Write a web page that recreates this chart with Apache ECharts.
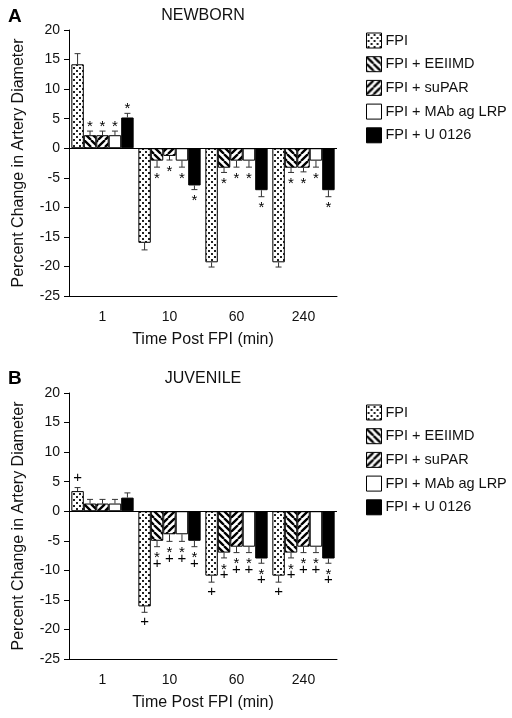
<!DOCTYPE html>
<html>
<head>
<meta charset="utf-8">
<script src="https://cdn.jsdelivr.net/npm/echarts@6/dist/echarts.min.js"></script>
<style>
html,body{margin:0;padding:0;background:#fff;}
#chart{width:512px;height:718px;}
</style>
</head>
<body>
<div id="chart"></div>
<script>
// ---------- data ----------
const categories = ['1', '10', '60', '240'];
const groupNames = ['FPI', 'FPI + EEIIMD', 'FPI + suPAR', 'FPI + MAb ag LRP', 'FPI + U 0126'];
const yTicks = [-25, -20, -15, -10, -5, 0, 5, 10, 15, 20];

// Panel A: NEWBORN (mean % change, SEM)
const newbornFPI       = [14.2, -16.0, -19.3, -19.3];
const newbornFPIErr    = [1.8, 1.2, 0.8, 0.8];
const newbornEEIIMD    = [2.2, -2.1, -3.3, -3.3];
const newbornEEIIMDErr = [0.7, 1.1, 0.8, 0.8];
const newbornSuPAR     = [2.2, -1.3, -2.1, -3.3];
const newbornSuPARErr  = [0.7, 0.7, 1.1, 0.7];
const newbornMAb       = [2.2, -2.1, -2.1, -2.1];
const newbornMAbErr    = [0.7, 1.1, 1.1, 1.1];
const newbornU0126     = [5.2, -6.3, -7.1, -7.1];
const newbornU0126Err  = [0.7, 0.7, 1.1, 1.1];
const newbornMarks = [
  ['', '', '', ''],
  ['*', '*', '*', '*'],
  ['*', '*', '*', '*'],
  ['*', '*', '*', '*'],
  ['*', '*', '*', '*']
];

// Panel B: JUVENILE
const juvenileFPI       = [3.4, -16.1, -10.9, -10.9];
const juvenileFPIErr    = [0.6, 1.0, 1.1, 1.1];
const juvenileEEIIMD    = [1.3, -5.0, -7.0, -7.0];
const juvenileEEIIMDErr = [0.7, 1.0, 0.9, 0.9];
const juvenileSuPAR     = [1.3, -3.9, -6.0, -6.0];
const juvenileSuPARErr  = [0.7, 1.2, 1.0, 1.0];
const juvenileMAb       = [1.3, -3.9, -6.0, -6.0];
const juvenileMAbErr    = [0.7, 1.2, 1.0, 1.0];
const juvenileU0126     = [2.3, -5.0, -8.0, -8.0];
const juvenileU0126Err  = [0.8, 1.0, 0.8, 0.8];
const juvenileMarks = [
  ['+', '+', '+', '+'],
  ['', '*+', '*+', '*+'],
  ['', '*+', '*+', '*+'],
  ['', '*+', '*+', '*+'],
  ['', '*+', '*+', '*+']
];

// ---------- patterns ----------
function makeCanvas(w, h) {
  const c = document.createElement('canvas');
  c.width = w; c.height = h;
  const ctx = c.getContext('2d');
  ctx.fillStyle = '#fff';
  ctx.fillRect(0, 0, w, h);
  return [c, ctx];
}
function dotsPattern() {
  const [c, ctx] = makeCanvas(6, 6);
  ctx.fillStyle = '#222';
  ctx.fillRect(1, 1, 2, 2);
  ctx.fillRect(4, 4, 2, 2);
  return { image: c, repeat: 'repeat' };
}
function stripePattern(back) {
  const s = 7;
  const [c, ctx] = makeCanvas(s, s);
  ctx.strokeStyle = '#000';
  ctx.lineWidth = 2.3;
  ctx.beginPath();
  for (let k = -1; k <= 1; k++) {
    if (back) { ctx.moveTo(k * s, 0); ctx.lineTo(k * s + s, s); }
    else { ctx.moveTo(k * s, s); ctx.lineTo(k * s + s, 0); }
  }
  ctx.stroke();
  return { image: c, repeat: 'repeat' };
}
const fills = [dotsPattern(), stripePattern(true), stripePattern(false), '#fff', '#000'];

const FONT = 'Liberation Sans, Arial, Helvetica, sans-serif';

const panels = [
  {
    vals: [newbornFPI, newbornEEIIMD, newbornSuPAR, newbornMAb, newbornU0126],
    errs: [newbornFPIErr, newbornEEIIMDErr, newbornSuPARErr, newbornMAbErr, newbornU0126Err],
    marks: newbornMarks, top: 30, legendTop: 27.5
  },
  {
    vals: [juvenileFPI, juvenileEEIIMD, juvenileSuPAR, juvenileMAb, juvenileU0126],
    errs: [juvenileFPIErr, juvenileEEIIMDErr, juvenileSuPARErr, juvenileMAbErr, juvenileU0126Err],
    marks: juvenileMarks, top: 393, legendTop: 399.5
  }
];

const CAT_GAP = 0.07;

function makeRender(i, marks) {
  return function (params, api) {
    const k = api.value(0), v = api.value(1), e = api.value(2);
    const up = v >= 0;
    const p0 = api.coord([k, v]);
    const p1 = api.coord([k, up ? v + e : v - e]);
    const bandW = api.size([1, 0])[0];
    const barW = bandW * (1 - CAT_GAP) / 5;
    const x = p0[0] + (i - 2) * barW;
    const children = [
      { type: 'line', shape: { x1: x, y1: p0[1], x2: x, y2: p1[1] }, style: { stroke: '#333', lineWidth: 1 } },
      { type: 'line', shape: { x1: x - 3, y1: p1[1], x2: x + 3, y2: p1[1] }, style: { stroke: '#333', lineWidth: 1 } }
    ];
    const m = marks[k] || '';
    const dir = up ? -1 : 1;
    let off = 0;
    for (let j = 0; j < m.length; j++) {
      const ch = m[j];
      if (j === 0) off = (ch === '*') ? 8 : 10;
      else off += 9;
      const cy = p1[1] + dir * off + (ch === '*' ? 3.5 : 0);
      children.push({
        type: 'text', x: x, y: cy,
        style: {
          text: ch, fill: '#000', fontSize: 15, fontFamily: FONT,
          align: 'center', verticalAlign: 'middle', textAlign: 'center', textVerticalAlign: 'middle'
        }
      });
    }
    return { type: 'group', children: children };
  };
}

const grids = [], xAxes = [], yAxes = [], series = [], legends = [];
panels.forEach((p, pi) => {
  grids.push({ left: 69, width: 268, top: p.top, height: 266 });
  xAxes.push({
    type: 'category', gridIndex: pi, data: categories, position: 'bottom',
    name: 'Time Post FPI (min)', nameLocation: 'middle', nameGap: 36,
    nameTextStyle: { fontSize: 16, color: '#111', fontFamily: FONT },
    axisLine: { onZero: false, lineStyle: { color: '#000', width: 1 } },
    axisTick: { alignWithLabel: true, length: 8, lineStyle: { color: '#000' } },
    axisLabel: { fontSize: 14, color: '#111', fontFamily: FONT, margin: 14 },
    splitLine: { show: false }
  });
  yAxes.push({
    type: 'value', gridIndex: pi, min: -25, max: 20, interval: 5,
    name: 'Percent Change in Artery Diameter', nameLocation: 'middle', nameGap: 42,
    nameTextStyle: { fontSize: 16, color: '#111', fontFamily: FONT },
    axisLine: { show: true, lineStyle: { color: '#000', width: 1 } },
    axisTick: { show: true, length: 5, lineStyle: { color: '#000' } },
    axisLabel: { fontSize: 14, color: '#111', fontFamily: FONT, margin: 9 },
    splitLine: { show: false }
  });
  p.vals.forEach((vals, i) => {
    const s = {
      type: 'bar', name: groupNames[i], xAxisIndex: pi, yAxisIndex: pi,
      data: vals, barCategoryGap: (CAT_GAP * 100) + '%', barGap: '0%',
      itemStyle: { color: fills[i], borderColor: '#000', borderWidth: 1 },
      emphasis: { disabled: true }, z: 2
    };
    if (i === 0) {
      s.markLine = {
        silent: true, symbol: 'none', label: { show: false },
        lineStyle: { color: '#000', width: 1, type: 'solid' },
        data: [{ yAxis: 0 }]
      };
    }
    series.push(s);
  });
  p.vals.forEach((vals, i) => {
    series.push({
      type: 'custom', name: 'err_' + pi + '_' + i, xAxisIndex: pi, yAxisIndex: pi,
      data: vals.map((v, k) => [k, v, p.errs[i][k]]),
      renderItem: makeRender(i, p.marks[i]), silent: true, z: 3
    });
  });
  legends.push({
    data: groupNames, orient: 'vertical', left: 361, top: p.legendTop,
    itemWidth: 15, itemHeight: 15, itemGap: 7.7, icon: 'rect',
    textStyle: { fontSize: 14.5, color: '#111', fontFamily: FONT, padding: [0, 0, 0, -1] },
    itemStyle: { borderColor: '#000', borderWidth: 1 }, selectedMode: false
  });
});

const chart = echarts.init(document.getElementById('chart'), null, { renderer: 'canvas' });
chart.setOption({
  backgroundColor: '#fff',
  animation: false,
  grid: grids, xAxis: xAxes, yAxis: yAxes, legend: legends, series: series,
  graphic: [
    { type: 'text', x: 8, y: 17, style: { text: 'A', font: 'bold 19px ' + FONT, fill: '#000', align: 'left', verticalAlign: 'middle' } },
    { type: 'text', x: 203, y: 15.5, style: { text: 'NEWBORN', font: '16px ' + FONT, fill: '#111', align: 'center', verticalAlign: 'middle' } },
    { type: 'text', x: 8, y: 379, style: { text: 'B', font: 'bold 19px ' + FONT, fill: '#000', align: 'left', verticalAlign: 'middle' } },
    { type: 'text', x: 203, y: 379, style: { text: 'JUVENILE', font: '16px ' + FONT, fill: '#111', align: 'center', verticalAlign: 'middle' } }
  ]
});
</script>
</body>
</html>
